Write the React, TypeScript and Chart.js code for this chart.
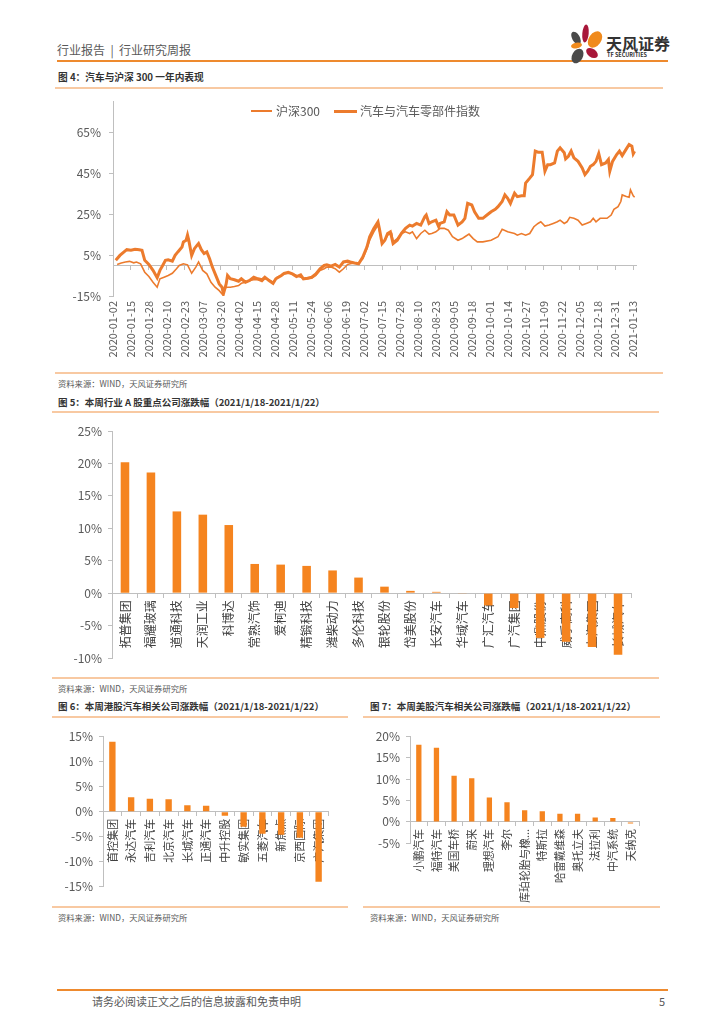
import React, { useEffect, useRef } from 'react';
import { Chart, registerables } from 'chart.js';

Chart.register(...registerables);

const FONT = '"Noto Sans CJK SC", "Noto Sans", sans-serif';
Chart.defaults.font.family = FONT;

const LINE = '#EC7B2D';
const BAR = '#F5841F';
const AXIS = '#BFBFBF';
const TICK = '#595959';
const LABEL = '#404040';

// ---------- 图4: 汽车与沪深300 一年内表现 ----------
const LABEL_STEP_DAYS = 13;
const dateLabels = [
  '2020-01-02', '2020-01-15', '2020-01-28', '2020-02-10', '2020-02-23', '2020-03-07',
  '2020-03-20', '2020-04-02', '2020-04-15', '2020-04-28', '2020-05-11', '2020-05-24',
  '2020-06-06', '2020-06-19', '2020-07-02', '2020-07-15', '2020-07-28', '2020-08-10',
  '2020-08-23', '2020-09-05', '2020-09-18', '2020-10-01', '2020-10-14', '2020-10-27',
  '2020-11-09', '2020-11-22', '2020-12-05', '2020-12-18', '2020-12-31', '2021-01-13',
];
const lineYTicks = [-15, 5, 25, 45, 65];

// [calendar day since 2020-01-02, cumulative return %]
const hs300: [number, number][] = [
  [3, 0.4], [6, 1.1], [9, 1.6], [12, 1.9], [15, 1.2], [17, 1.6], [20, 0.7], [23, -3.4], [26, -5.5],
  [29, -8.3], [32, -10.7], [34, -6.6], [37, -5.8], [40, -5.0], [43, -3.9], [46, -1.7], [48, -0.1],
  [51, 0.7], [54, 0.2], [57, -3.9], [60, -0.9], [62, 1.6], [65, -2.5], [68, -4.2], [71, -8.3],
  [74, -10.7], [77, -12.4], [79, -14.0], [82, -10.7], [85, -10.7], [88, -10.4], [91, -9.9],
  [93, -8.8], [96, -8.3], [99, -7.4], [102, -7.1], [105, -7.1], [108, -7.9], [110, -6.6],
  [113, -7.1], [116, -8.3], [119, -5.8], [122, -5.0], [124, -4.2], [127, -3.9], [130, -4.2],
  [133, -5.0], [136, -5.8], [138, -6.6], [141, -6.6], [144, -6.3], [147, -5.0], [150, -2.5],
  [153, -1.7], [155, -0.9], [158, -0.9], [161, -1.7], [164, -3.4], [167, -1.7], [170, 0.4],
  [172, 0.7], [175, 1.1], [178, 1.1], [181, 3.2], [184, 8.1], [186, 12.2], [189, 16.3],
  [192, 19.6], [193, 17.1], [195, 11.4], [197, 12.2], [199, 14.7], [202, 15.5], [203, 11.4],
  [206, 13.0], [209, 15.5], [212, 16.3], [215, 15.5], [217, 16.3], [220, 13.0], [223, 15.5],
  [226, 17.1], [229, 15.2], [231, 15.5], [234, 16.3], [237, 18.0], [240, 18.0], [243, 17.1],
  [246, 13.9], [250, 12.2], [253, 13.0], [255, 13.9], [258, 15.2], [261, 13.0], [264, 11.4],
  [268, 11.4], [274, 12.2], [279, 13.9], [282, 17.5], [286, 16.3], [291, 15.5], [293, 14.7],
  [296, 15.5], [299, 14.7], [302, 15.5], [305, 18.8], [308, 20.4], [310, 21.2], [313, 19.1],
  [316, 19.6], [319, 20.4], [322, 21.2], [324, 22.0], [327, 20.4], [329, 21.2], [331, 23.4],
  [334, 22.9], [337, 22.0], [340, 19.6], [343, 20.4], [346, 21.2], [348, 22.9], [350, 21.2],
  [353, 22.9], [355, 22.9], [358, 22.9], [361, 24.5], [363, 27.3], [366, 28.6], [368, 31.1],
  [369, 34.3], [372, 33.5], [374, 33.2], [375, 36.8], [377, 33.9], [378, 33.2],
];

const autoIndex: [number, number][] = [
  [2, 2.4], [5, 4.8], [8, 6.5], [10, 7.6], [13, 7.3], [16, 7.8], [19, 7.6], [21, 7.3], [23, 2.4],
  [26, 0.4], [29, -2.5], [32, -6.1], [34, -2.5], [36, -0.1], [38, 2.4], [40, 2.7], [43, 2.0],
  [45, 4.8], [47, 6.5], [50, 8.9], [51, 11.4], [53, 12.2], [54, 14.7], [55, 11.9], [57, 4.8],
  [59, 8.1], [61, 9.8], [62, 10.6], [64, 7.6], [66, 5.7], [68, 6.5], [70, 3.2], [72, -0.9],
  [75, -5.8], [77, -9.1], [79, -10.7], [80, -14.0], [82, -9.1], [83, -5.0], [85, -6.6],
  [88, -7.1], [91, -7.8], [93, -6.6], [96, -8.3], [99, -7.4], [102, -5.8], [105, -6.6],
  [108, -7.1], [110, -5.8], [113, -7.4], [116, -8.8], [118, -6.6], [122, -5.0], [124, -3.9],
  [127, -3.4], [130, -4.2], [133, -5.5], [136, -4.7], [138, -6.6], [141, -6.3], [144, -5.8],
  [147, -4.2], [150, -1.7], [153, -0.1], [155, 0.2], [158, -0.4], [161, 0.4], [164, -0.9],
  [167, 1.6], [170, 2.0], [172, 1.6], [175, 1.1], [178, 0.7], [181, 4.0], [184, 8.9],
  [186, 13.9], [189, 18.0], [192, 21.2], [193, 18.0], [195, 10.6], [197, 12.2], [199, 15.5],
  [201, 16.3], [203, 10.6], [206, 12.2], [209, 15.5], [212, 18.0], [215, 19.6], [217, 19.1],
  [220, 20.4], [223, 19.6], [226, 23.7], [227, 24.5], [229, 20.4], [231, 21.2], [234, 22.0],
  [236, 18.8], [237, 20.4], [240, 21.2], [242, 26.1], [244, 24.5], [247, 24.5], [250, 19.6],
  [253, 21.2], [255, 22.9], [257, 30.2], [260, 29.4], [262, 26.1], [265, 22.9], [268, 22.9],
  [271, 24.5], [274, 26.1], [277, 27.3], [279, 28.6], [282, 31.1], [284, 34.3], [286, 32.7],
  [288, 30.2], [289, 31.9], [291, 35.2], [293, 33.5], [296, 33.9], [298, 33.9], [299, 40.1],
  [302, 42.5], [304, 44.2], [306, 55.7], [308, 55.2], [311, 55.2], [313, 45.9], [315, 49.1],
  [317, 49.1], [320, 49.9], [322, 55.7], [324, 57.3], [327, 54.9], [328, 51.9], [330, 53.2],
  [332, 55.7], [334, 52.4], [337, 50.7], [340, 47.5], [342, 44.2], [344, 45.9], [346, 48.3],
  [348, 49.1], [350, 50.7], [352, 54.5], [354, 49.1], [357, 49.9], [359, 51.6], [360, 45.9],
  [362, 50.7], [365, 54.0], [367, 55.7], [369, 53.5], [372, 56.8], [374, 58.9], [376, 58.1],
  [377, 54.4], [378, 55.6],
];

// ---------- 图5: A股重点公司 ----------
const aCompanies = [
  '拓普集团', '福耀玻璃', '道通科技', '天润工业', '科博达', '常熟汽饰', '爱柯迪', '精锻科技',
  '潍柴动力', '多伦科技', '银轮股份', '岱美股份', '长安汽车', '华域汽车', '广汇汽车', '广汽集团',
  '中鼎股份', '威孚高科', '上汽集团', '长城汽车',
];
const aChanges = [20.2, 18.6, 12.6, 12.1, 10.5, 4.5, 4.4, 4.2, 3.5, 2.4, 1.0, 0.35, 0.2, -0.1, -1.9, -2.3, -6.9, -7.5, -8.3, -9.5];

// ---------- 图6: 港股 ----------
const hkCompanies = ['首控集团', '永达汽车', '吉利汽车', '北京汽车', '长城汽车', '正通汽车', '中升控股', '敏实集团', '五菱汽车', '新焦点', '京西国际', '广汽集团'];
const hkChanges = [14.0, 2.9, 2.6, 2.5, 1.3, 1.2, -0.8, -3.0, -4.4, -4.6, -5.2, -14.0];

// ---------- 图7: 美股 ----------
const usCompanies = ['小鹏汽车', '福特汽车', '美国车桥', '蔚来', '理想汽车', '李尔', '库珀轮胎与橡...', '特斯拉', '哈雷戴维森', '奥托立夫', '法拉利', '中汽系统', '天纳克'];
const usChanges = [18.0, 17.3, 10.8, 10.2, 5.7, 4.6, 2.7, 2.5, 1.9, 1.9, 1.0, 0.9, -0.4];

const pct = (v: any) => v + '%';

const fitY = (w: number) => (s: any) => {
  s.width = w;
  s.paddingTop = 0;
  s.paddingBottom = 0;
};

function lineConfig(): any {
  const dateTicks = (s: any) => {
    s.ticks = dateLabels.map((_, i) => ({ value: i * LABEL_STEP_DAYS }));
  };
  return {
    type: 'line',
    data: {
      datasets: [
        { label: '沪深300', data: hs300.map(([x, y]) => ({ x, y })), borderColor: LINE, borderWidth: 1.6, pointRadius: 0, tension: 0 },
        { label: '汽车与汽车零部件指数', data: autoIndex.map(([x, y]) => ({ x, y })), borderColor: LINE, borderWidth: 3, pointRadius: 0, tension: 0 },
      ],
    },
    options: {
      animation: false,
      responsive: true,
      maintainAspectRatio: false,
      events: [],
      layout: { padding: { top: 10.3, right: 14, left: 0, bottom: 0 } },
      plugins: { legend: { display: false }, tooltip: { enabled: false } },
      scales: {
        x: {
          type: 'linear', position: 'bottom', min: 0, max: 379,
          afterBuildTicks: dateTicks,
          afterFit: (s: any) => { s.height = 70; s.paddingLeft = 0; s.paddingRight = 0; },
          ticks: { autoSkip: false, maxRotation: 90, minRotation: 90, padding: 5, color: TICK, font: { size: 11 }, callback: (_v: any, i: number) => dateLabels[i] },
          grid: { display: false, drawTicks: false },
          border: { display: false },
        },
        x2: {
          type: 'linear', axis: 'x', position: { y: 0 }, min: 0, max: 379,
          afterBuildTicks: dateTicks,
          afterFit: (s: any) => { s.paddingLeft = 0; s.paddingRight = 0; },
          ticks: { display: false },
          grid: { drawOnChartArea: false, drawTicks: true, tickLength: 4, color: AXIS },
          border: { display: true, color: AXIS },
        },
        y: {
          type: 'linear', min: -15, max: 80,
          afterBuildTicks: (s: any) => { s.ticks = lineYTicks.map((v) => ({ value: v })); },
          afterFit: fitY(73),
          ticks: { callback: pct, color: TICK, font: { size: 12 }, padding: 8 },
          grid: { drawOnChartArea: false, tickLength: 4, color: AXIS },
          border: { color: AXIS },
        },
      },
    },
  };
}

function barConfig(labels: string[], values: number[], yMin: number, yMax: number, yWidth: number, padding: any, barPct: number, labelSize: number): any {
  return {
    type: 'bar',
    data: { labels, datasets: [{ data: values, backgroundColor: BAR, barPercentage: barPct, categoryPercentage: 1 }] },
    options: {
      animation: false,
      responsive: true,
      maintainAspectRatio: false,
      events: [],
      layout: { padding },
      plugins: { legend: { display: false }, tooltip: { enabled: false } },
      scales: {
        x: {
          type: 'category', position: { y: 0 }, z: 1, offset: true,
          afterFit: (s: any) => { s.paddingLeft = 0; s.paddingRight = 0; },
          ticks: { autoSkip: false, maxRotation: 90, minRotation: 90, padding: 3, color: LABEL, font: { size: labelSize } },
          grid: { drawOnChartArea: false, drawTicks: true, tickLength: 4, color: AXIS, offset: true },
          border: { color: AXIS },
        },
        y: {
          type: 'linear', min: yMin, max: yMax,
          afterFit: fitY(yWidth),
          ticks: { stepSize: 5, callback: pct, color: TICK, font: { size: 12 }, padding: 6 },
          grid: { drawOnChartArea: false, tickLength: 4, color: AXIS },
          border: { color: AXIS },
        },
      },
    },
  };
}

function ChartBox({ left, top, width, height, make }: { left: number; top: number; width: number; height: number; make: () => any }) {
  const ref = useRef<HTMLCanvasElement>(null);
  useEffect(() => {
    const chart = new Chart(ref.current as HTMLCanvasElement, make());
    return () => chart.destroy();
  }, []);
  return (
    <div style={{ position: 'absolute', left, top, width, height }}>
      <canvas ref={ref} />
    </div>
  );
}

const T = (props: { x: number; y: number; size: number; bold?: boolean; color?: string; children: React.ReactNode }) => (
  <div style={{ position: 'absolute', left: props.x, top: props.y - props.size / 2, fontSize: props.size, lineHeight: 1, fontWeight: props.bold ? 700 : 400, color: props.color || TICK, whiteSpace: 'pre', fontFamily: FONT }}>
    {props.children}
  </div>
);

const HLine = ({ x, y, w, h, c }: { x: number; y: number; w: number; h: number; c: string }) => (
  <div style={{ position: 'absolute', left: x, top: y, width: w, height: h, background: c }} />
);

export default function App() {
  const peach = '#F8C9A2';
  return (
    <div style={{ position: 'absolute', left: 0, top: 0, width: 724, height: 1024, background: '#fff', fontFamily: FONT, overflow: 'hidden' }}>
      {/* header */}
      <T x={57} y={50} size={12}>{'行业报告  |  行业研究周报'}</T>
      <HLine x={57} y={60} w={611} h={2} c="#EE8A2E" />
      <svg style={{ position: 'absolute', left: 566, top: 23 }} width={40} height={44} viewBox="0 0 40 44">
        <ellipse cx={10} cy={15} rx={3.8} ry={7} fill="#4A4A4A" transform="rotate(-30 10 15)" />
        <ellipse cx={19.5} cy={10.5} rx={3.2} ry={9} fill="#A8173A" transform="rotate(5 19.5 10.5)" />
        <ellipse cx={29} cy={16.5} rx={6.2} ry={9} fill="#F08A1C" transform="rotate(35 29 16.5)" />
        <ellipse cx={10.5} cy={22.5} rx={5.5} ry={2.8} fill="#F08A1C" transform="rotate(-10 10.5 22.5)" />
        <ellipse cx={11.5} cy={33} rx={5.3} ry={7.8} fill="#4A4A4A" transform="rotate(30 11.5 33)" />
        <ellipse cx={26} cy={30} rx={6.5} ry={4.2} fill="#A8173A" transform="rotate(35 26 30)" />
      </svg>
      <T x={606} y={43} size={16} bold color="#333333">天风证券</T>
      <T x={607} y={56} size={5.5} bold color="#333333">TF SECURITIES</T>

      {/* 图4 */}
      <T x={58} y={78} size={9.7} bold color="#333333">图 4：汽车与沪深 300 一年内表现</T>
      <HLine x={55} y={87} w={608} h={2} c={peach} />
      <ChartBox left={40} top={91} width={610} height={275} make={lineConfig} />
      <HLine x={251} y={110} w={21} h={1.6} c={LINE} />
      <T x={276} y={111} size={12}>沪深300</T>
      <HLine x={334} y={109.5} w={23} h={3} c={LINE} />
      <T x={360} y={111} size={12}>汽车与汽车零部件指数</T>
      <HLine x={55} y={372} w={608} h={1.5} c={peach} />
      <T x={58} y={383} size={8.3}>资料来源：WIND，天风证券研究所</T>

      {/* 图5 */}
      <T x={58} y={402.5} size={9.5} bold color="#333333">图 5：本周行业 A 股重点公司涨跌幅（2021/1/18-2021/1/22）</T>
      <HLine x={52} y={411} w={607} h={2} c={peach} />
      <ChartBox left={40} top={420} width={600} height={245}
        make={() => barConfig(aCompanies, aChanges, -10, 25, 72, { top: 11, right: 9, bottom: 7, left: 0 }, 0.33, 12)} />
      <HLine x={52} y={677} w={607} h={1.5} c={peach} />
      <T x={58} y={688} size={8.3}>资料来源：WIND，天风证券研究所</T>

      {/* 图6 */}
      <T x={58} y={707} size={9.5} bold color="#333333">图 6：本周港股汽车相关公司涨跌幅（2021/1/18-2021/1/22）</T>
      <HLine x={52} y={716} w={296} h={2} c={peach} />
      <ChartBox left={40} top={725} width={300} height={178}
        make={() => barConfig(hkCompanies, hkChanges, -15, 15, 63, { top: 11.7, right: 12, bottom: 16.3, left: 0 }, 0.34, 11)} />
      <HLine x={52} y={906} w={296} h={1.5} c={peach} />
      <T x={58} y={917} size={8.3}>资料来源：WIND，天风证券研究所</T>

      {/* 图7 */}
      <T x={370} y={707} size={9.5} bold color="#333333">图 7：本周美股汽车相关公司涨跌幅（2021/1/18-2021/1/22）</T>
      <HLine x={363} y={716} w={297} h={2} c={peach} />
      <ChartBox left={360} top={725} width={290} height={178}
        make={() => barConfig(usCompanies, usChanges, -5, 20, 50, { top: 11.3, right: 10.7, bottom: 59.7, left: 0 }, 0.3, 10.8)} />
      <HLine x={363} y={906} w={297} h={1.5} c={peach} />
      <T x={370} y={917} size={8.3}>资料来源：WIND，天风证券研究所</T>

      {/* footer */}
      <HLine x={57} y={989} w={611} h={2} c="#EE8A2E" />
      <T x={92} y={1001} size={11}>请务必阅读正文之后的信息披露和免责申明</T>
      <T x={659} y={1001} size={11}>5</T>
    </div>
  );
}
